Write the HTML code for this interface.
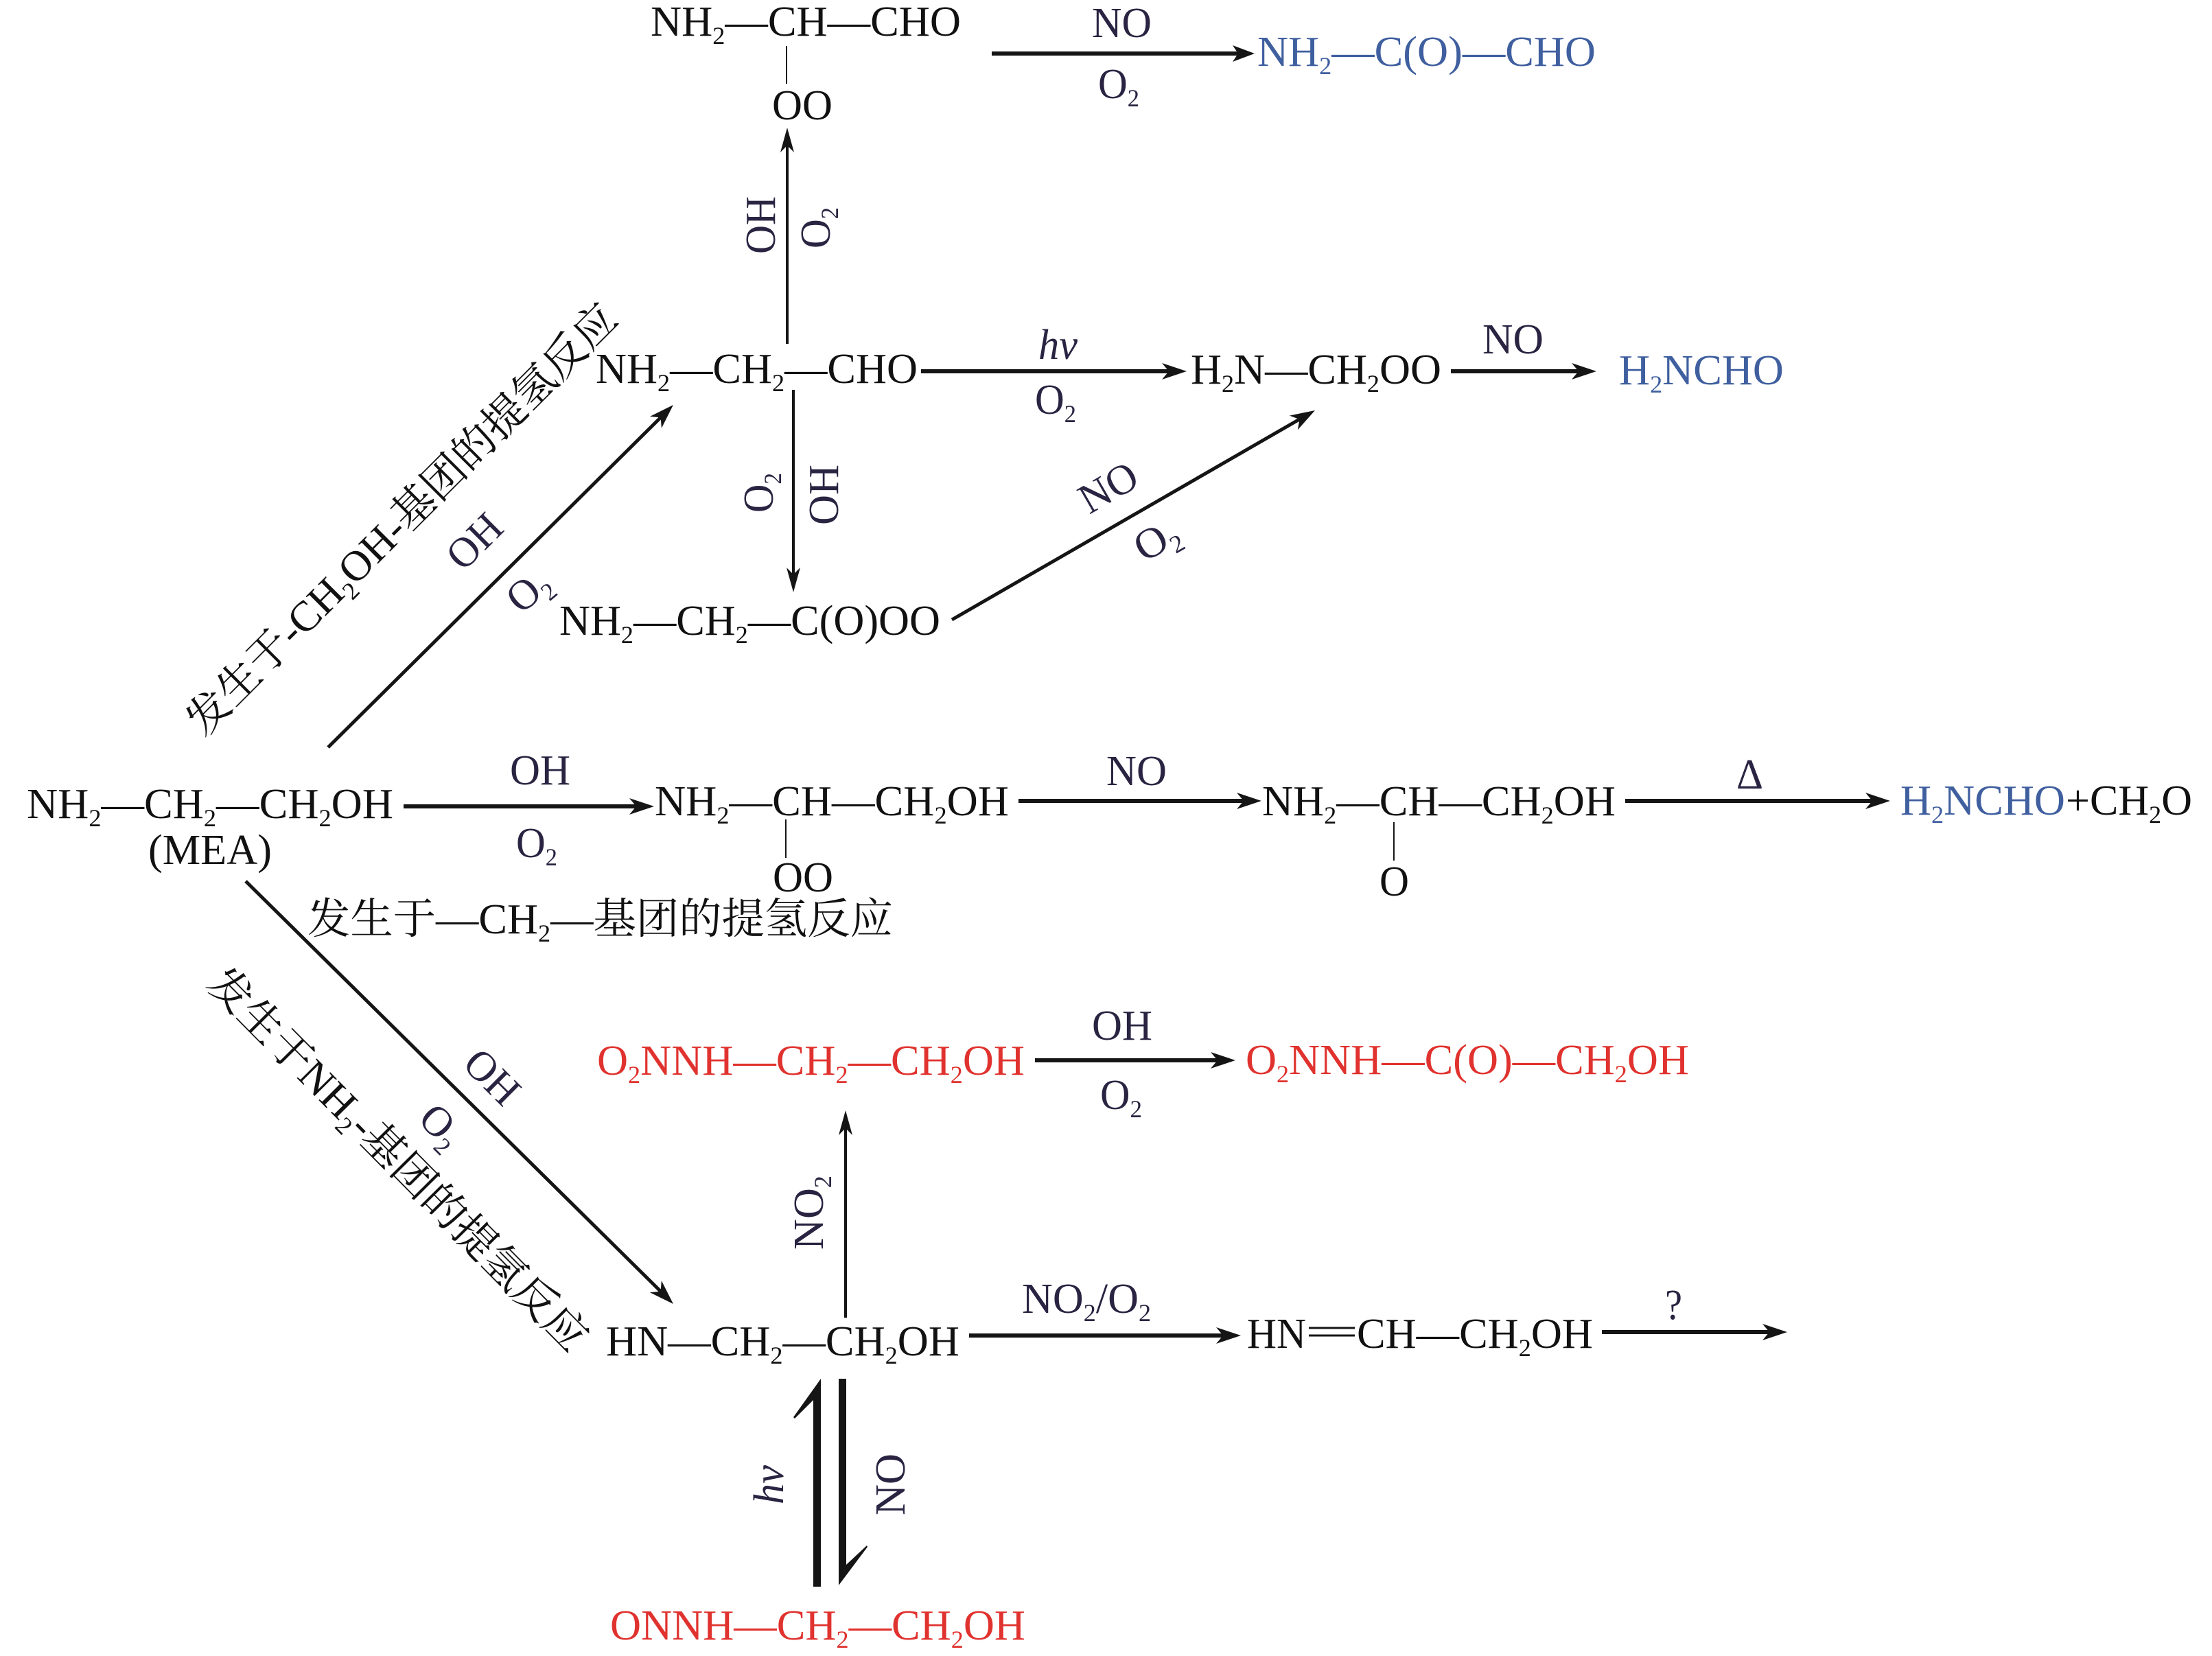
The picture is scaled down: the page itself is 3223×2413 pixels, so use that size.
<!DOCTYPE html>
<html><head><meta charset="utf-8">
<style>
html,body{margin:0;padding:0;background:#fff}
svg{display:block}
text{font-family:"Liberation Serif","Noto Serif CJK SC",serif;font-size:62px;fill:#111}
.b text,text.b{fill:#3f5f9f}
.r text,text.r{fill:#e0322e}
text.p{fill:#2a2442}
.s{font-size:36px}
line{stroke:#151515;stroke-width:6}
line.d{stroke-width:5}
polygon{fill:#151515}
</style></head><body>
<svg width="3223" height="2413" viewBox="0 0 3223 2413" xmlns="http://www.w3.org/2000/svg">
<rect width="3223" height="2413" fill="#fff"/>

<!-- Top row -->
<text x="948" y="52" textLength="452" lengthAdjust="spacingAndGlyphs">NH<tspan class="s" dy="12">2</tspan><tspan dy="-12">—CH—CHO</tspan></text>
<text class="p" x="1591" y="54" textLength="87" lengthAdjust="spacingAndGlyphs">NO</text>
<text class="p" x="1600" y="143" textLength="60" lengthAdjust="spacingAndGlyphs">O<tspan class="s" dy="12">2</tspan></text>
<line x1="1445" y1="78" x2="1812" y2="78"/><polygon transform="translate(1828,78)" points="0,0 -32,-12 -24,0 -32,12"/>
<text class="b" x="1832" y="96" textLength="493" lengthAdjust="spacingAndGlyphs">NH<tspan class="s" dy="12">2</tspan><tspan dy="-12">—C(O)—CHO</tspan></text>
<line x1="1146" y1="67" x2="1146" y2="122" style="stroke-width:2"/>
<text x="1125" y="174" textLength="88" lengthAdjust="spacingAndGlyphs">OO</text>

<line x1="1147" y1="501" x2="1147" y2="200" style="stroke-width:4"/><polygon transform="translate(1147,186) rotate(-90)" points="0,0 -36,-10 -26,0 -36,10"/>
<text class="p" transform="translate(1129,370) rotate(-90)" textLength="84" lengthAdjust="spacingAndGlyphs">OH</text>
<text class="p" transform="translate(1209,362) rotate(-90)" textLength="60" lengthAdjust="spacingAndGlyphs">O<tspan class="s" dy="12">2</tspan></text>

<!-- Second row -->
<text x="868" y="558" textLength="469" lengthAdjust="spacingAndGlyphs">NH<tspan class="s" dy="12">2</tspan><tspan dy="-12">—CH</tspan><tspan class="s" dy="12">2</tspan><tspan dy="-12">—CHO</tspan></text>
<line x1="1342" y1="541" x2="1712" y2="541"/><polygon transform="translate(1729,541)" points="0,0 -36,-12 -26,0 -36,12"/>
<text class="p" x="1513" y="523" textLength="57" lengthAdjust="spacingAndGlyphs" font-style="italic">hv</text>
<text class="p" x="1508" y="603" textLength="60" lengthAdjust="spacingAndGlyphs">O<tspan class="s" dy="12">2</tspan></text>
<text x="1735" y="559" textLength="365" lengthAdjust="spacingAndGlyphs">H<tspan class="s" dy="12">2</tspan><tspan dy="-12">N—CH</tspan><tspan class="s" dy="12">2</tspan><tspan dy="-12">OO</tspan></text>
<text class="p" x="2160" y="515" textLength="89" lengthAdjust="spacingAndGlyphs">NO</text>
<line x1="2114" y1="541" x2="2310" y2="541"/><polygon transform="translate(2326,541)" points="0,0 -36,-12 -26,0 -36,12"/>
<text class="b" x="2359" y="560" textLength="240" lengthAdjust="spacingAndGlyphs">H<tspan class="s" dy="12">2</tspan><tspan dy="-12">NCHO</tspan></text>

<!-- Down arrow -->
<line x1="1156" y1="568" x2="1156" y2="850" style="stroke-width:4"/><polygon transform="translate(1156,863) rotate(90)" points="0,0 -36,-10 -26,0 -36,10"/>
<text class="p" transform="translate(1126,747) rotate(-90)" textLength="58" lengthAdjust="spacingAndGlyphs">O<tspan class="s" dy="12">2</tspan></text>
<text class="p" transform="translate(1221,765) rotate(-90)" textLength="88" lengthAdjust="spacingAndGlyphs">OH</text>
<text x="815" y="925" textLength="555" lengthAdjust="spacingAndGlyphs">NH<tspan class="s" dy="12">2</tspan><tspan dy="-12">—CH</tspan><tspan class="s" dy="12">2</tspan><tspan dy="-12">—C(O)OO</tspan></text>

<!-- diag C -->
<line class="d" x1="1387" y1="903" x2="1902" y2="606"/><polygon transform="translate(1916,598) rotate(-30)" points="0,0 -36,-12 -26,0 -36,12"/>
<text class="p" transform="translate(1587,750) rotate(-30)" textLength="88" lengthAdjust="spacingAndGlyphs">NO</text>
<text class="p" transform="translate(1667,820) rotate(-30)" textLength="65" lengthAdjust="spacingAndGlyphs">O<tspan class="s" dy="12">2</tspan></text>

<!-- diag A -->
<line class="d" x1="478" y1="1089" x2="969" y2="602"/><polygon transform="translate(981,590) rotate(-44.8)" points="0,0 -36,-12 -26,0 -36,12"/>
<text transform="translate(297,1075) rotate(-45)" textLength="858" lengthAdjust="spacingAndGlyphs">发生于-CH<tspan class="s" dy="12">2</tspan><tspan dy="-12">OH-基团的提氢反应</tspan></text>
<text class="p" transform="translate(675,834) rotate(-45)" textLength="87" lengthAdjust="spacingAndGlyphs">OH</text>
<text class="p" transform="translate(759,896) rotate(-40)" textLength="62" lengthAdjust="spacingAndGlyphs">O<tspan class="s" dy="12">2</tspan></text>

<!-- Middle row -->
<text x="39" y="1192" textLength="534" lengthAdjust="spacingAndGlyphs">NH<tspan class="s" dy="12">2</tspan><tspan dy="-12">—CH</tspan><tspan class="s" dy="12">2</tspan><tspan dy="-12">—CH</tspan><tspan class="s" dy="12">2</tspan><tspan dy="-12">OH</tspan></text>
<text x="216" y="1259" textLength="180" lengthAdjust="spacingAndGlyphs">(MEA)</text>
<line x1="588" y1="1175" x2="938" y2="1175"/><polygon transform="translate(953,1175)" points="0,0 -36,-12 -26,0 -36,12"/>
<text class="p" x="743" y="1143" textLength="88" lengthAdjust="spacingAndGlyphs">OH</text>
<text class="p" x="752" y="1249" textLength="60" lengthAdjust="spacingAndGlyphs">O<tspan class="s" dy="12">2</tspan></text>
<text x="954" y="1188" textLength="516" lengthAdjust="spacingAndGlyphs">NH<tspan class="s" dy="12">2</tspan><tspan dy="-12">—CH—CH</tspan><tspan class="s" dy="12">2</tspan><tspan dy="-12">OH</tspan></text>
<line x1="1145" y1="1194" x2="1145" y2="1250" style="stroke-width:2"/>
<text x="1126" y="1299" textLength="88" lengthAdjust="spacingAndGlyphs">OO</text>
<text class="p" x="1612" y="1144" textLength="88" lengthAdjust="spacingAndGlyphs">NO</text>
<line x1="1484" y1="1167" x2="1822" y2="1167"/><polygon transform="translate(1838,1167)" points="0,0 -36,-12 -26,0 -36,12"/>
<text x="1839" y="1188" textLength="515" lengthAdjust="spacingAndGlyphs">NH<tspan class="s" dy="12">2</tspan><tspan dy="-12">—CH—CH</tspan><tspan class="s" dy="12">2</tspan><tspan dy="-12">OH</tspan></text>
<line x1="2031" y1="1198" x2="2031" y2="1254" style="stroke-width:2"/>
<text x="2010" y="1305" textLength="43" lengthAdjust="spacingAndGlyphs">O</text>
<text class="p" x="2530" y="1149" textLength="39" lengthAdjust="spacingAndGlyphs">Δ</text>
<line x1="2368" y1="1167" x2="2738" y2="1167"/><polygon transform="translate(2754,1167)" points="0,0 -36,-12 -26,0 -36,12"/>
<text class="b" x="2769" y="1187" textLength="240" lengthAdjust="spacingAndGlyphs">H<tspan class="s" dy="12">2</tspan><tspan dy="-12">NCHO</tspan></text>
<text x="3010" y="1187" textLength="184" lengthAdjust="spacingAndGlyphs">+CH<tspan class="s" dy="12">2</tspan><tspan dy="-12">O</tspan></text>
<text x="448" y="1360" textLength="853" lengthAdjust="spacingAndGlyphs">发生于—CH<tspan class="s" dy="12">2</tspan><tspan dy="-12">—基团的提氢反应</tspan></text>

<!-- diag B -->
<line class="d" x1="358" y1="1284" x2="969" y2="1888"/><polygon transform="translate(981,1900) rotate(44.7)" points="0,0 -36,-12 -26,0 -36,12"/>
<text transform="translate(299,1436) rotate(45.3)" textLength="756" lengthAdjust="spacingAndGlyphs">发生于NH<tspan class="s" dy="12">2</tspan><tspan dy="-12">-基团的提氢反应</tspan></text>
<text class="p" transform="translate(672,1553) rotate(45)" textLength="87" lengthAdjust="spacingAndGlyphs">OH</text>
<text class="p" transform="translate(607,1633) rotate(45)" textLength="62" lengthAdjust="spacingAndGlyphs">O<tspan class="s" dy="12">2</tspan></text>

<!-- Red row -->
<text class="r" x="870" y="1566" textLength="623" lengthAdjust="spacingAndGlyphs">O<tspan class="s" dy="12">2</tspan><tspan dy="-12">NNH—CH</tspan><tspan class="s" dy="12">2</tspan><tspan dy="-12">—CH</tspan><tspan class="s" dy="12">2</tspan><tspan dy="-12">OH</tspan></text>
<line x1="1508" y1="1545" x2="1785" y2="1545"/><polygon transform="translate(1800,1545)" points="0,0 -36,-12 -26,0 -36,12"/>
<text class="p" x="1591" y="1515" textLength="88" lengthAdjust="spacingAndGlyphs">OH</text>
<text class="p" x="1603" y="1616" textLength="61" lengthAdjust="spacingAndGlyphs">O<tspan class="s" dy="12">2</tspan></text>
<text class="r" x="1815" y="1565" textLength="646" lengthAdjust="spacingAndGlyphs">O<tspan class="s" dy="12">2</tspan><tspan dy="-12">NNH—C(O)—CH</tspan><tspan class="s" dy="12">2</tspan><tspan dy="-12">OH</tspan></text>

<!-- NO2 up -->
<line x1="1232" y1="1920" x2="1232" y2="1632" style="stroke-width:4"/><polygon transform="translate(1232,1618) rotate(-90)" points="0,0 -36,-10 -26,0 -36,10"/>
<text class="p" transform="translate(1199,1821) rotate(-90)" textLength="108" lengthAdjust="spacingAndGlyphs">NO<tspan class="s" dy="12">2</tspan></text>

<!-- HN row -->
<text x="883" y="1975" textLength="515" lengthAdjust="spacingAndGlyphs">HN—CH<tspan class="s" dy="12">2</tspan><tspan dy="-12">—CH</tspan><tspan class="s" dy="12">2</tspan><tspan dy="-12">OH</tspan></text>
<line x1="1412" y1="1946" x2="1792" y2="1946"/><polygon transform="translate(1808,1946)" points="0,0 -36,-12 -26,0 -36,12"/>
<text class="p" x="1489" y="1913" textLength="188" lengthAdjust="spacingAndGlyphs">NO<tspan class="s" dy="12">2</tspan><tspan dy="-12">/O</tspan><tspan class="s" dy="12">2</tspan></text>
<text x="1817" y="1964" textLength="86" lengthAdjust="spacingAndGlyphs">HN</text>
<line x1="1907" y1="1935" x2="1974" y2="1935" style="stroke-width:3"/>
<line x1="1907" y1="1946" x2="1974" y2="1946" style="stroke-width:3"/>
<text x="1977" y="1964" textLength="344" lengthAdjust="spacingAndGlyphs">CH—CH<tspan class="s" dy="12">2</tspan><tspan dy="-12">OH</tspan></text>
<text class="p" x="2426" y="1922" textLength="25" lengthAdjust="spacingAndGlyphs">?</text>
<line x1="2334" y1="1941" x2="2588" y2="1941"/><polygon transform="translate(2604,1941)" points="0,0 -36,-12 -26,0 -36,12"/>

<!-- Equilibrium -->
<polygon points="1196,2009 1196,2312 1185,2312 1185,2040 1158,2067 1156,2065"/>
<polygon points="1222,2009 1233,2009 1233,2280 1263,2252 1264,2254 1222,2310"/>
<text class="p" transform="translate(1141,2192) rotate(-90)" textLength="57" lengthAdjust="spacingAndGlyphs" font-style="italic">hv</text>
<text class="p" transform="translate(1318,2208) rotate(-90)" textLength="90" lengthAdjust="spacingAndGlyphs">NO</text>
<text class="r" x="889" y="2389" textLength="605" lengthAdjust="spacingAndGlyphs">ONNH—CH<tspan class="s" dy="12">2</tspan><tspan dy="-12">—CH</tspan><tspan class="s" dy="12">2</tspan><tspan dy="-12">OH</tspan></text>
</svg>
</body></html>
